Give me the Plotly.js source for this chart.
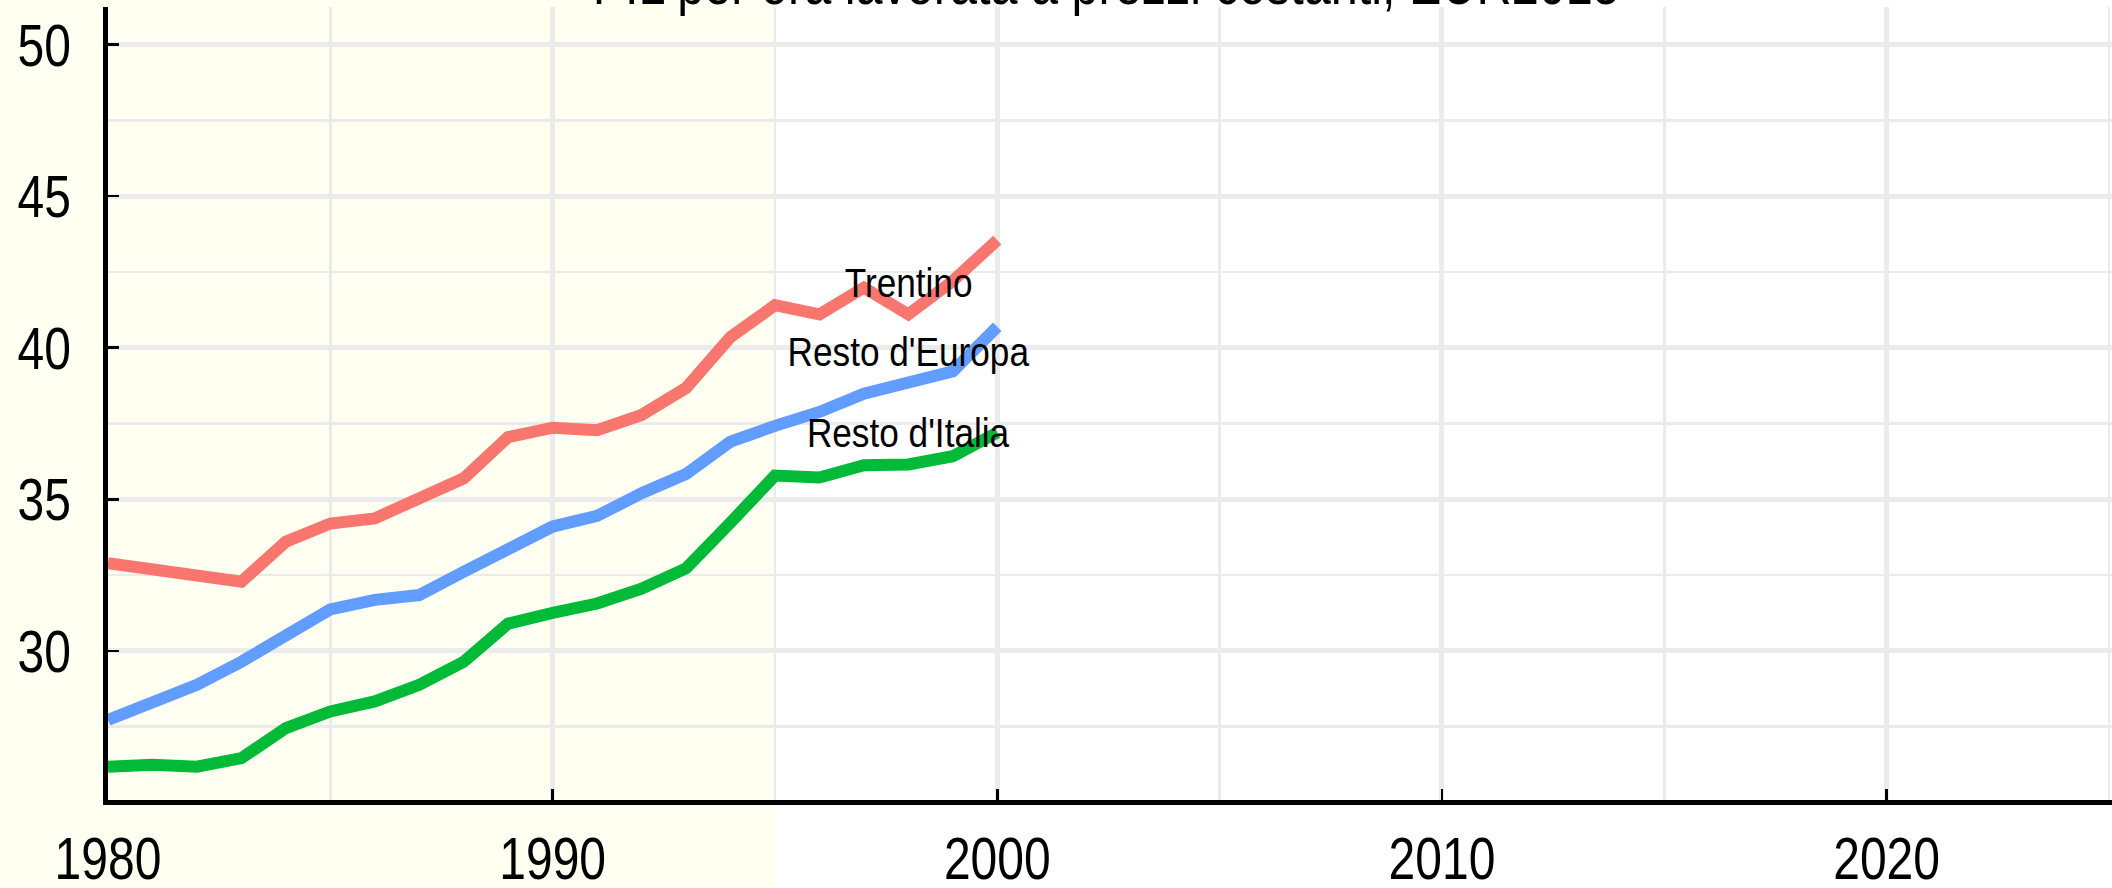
<!DOCTYPE html>
<html>
<head>
<meta charset="utf-8">
<script src="https://cdn.plot.ly/plotly-3.0.1.min.js"></script>
<style>
  html, body { margin: 0; padding: 0; }
  #chart { width: 2112px; height: 888px;
    background: linear-gradient(to right, #fffff2 0px, #fffff2 775px, #ffffff 775px, #ffffff 2112px); }
</style>
</head>
<body>
<div id="chart"></div>
<script>
const years = [1980,1981,1982,1983,1984,1985,1986,1987,1988,1989,1990,1991,1992,1993,1994,1995,1996,1997,1998,1999,2000];
const trentino = [32.89,32.72,32.50,32.28,33.60,34.20,34.37,34.98,35.69,37.05,37.36,37.28,37.78,38.67,40.35,41.40,41.10,41.98,41.10,42.20,43.55];
const restoEuropa = [27.72,28.25,28.88,29.64,30.52,31.37,31.68,31.84,32.61,33.39,34.10,34.45,35.20,35.83,36.90,37.42,37.88,38.48,38.83,39.22,40.69];
const restoItalia = [26.18,26.24,26.18,26.46,27.45,28.00,28.33,28.88,29.64,30.90,31.25,31.56,32.05,32.72,34.23,35.78,35.72,36.12,36.15,36.42,37.20];
const seriesNames = ["Trentino", "Resto d'Europa", "Resto d'Italia"];
const seriesColors = ["#F8766D", "#619CFF", "#00BA38"];
const labelX = [1998, 1998, 1998];
const labelY = [42.12, 39.86, 37.19];
const titleText = "PIL per ora lavorata a prezzi costanti, EUR2015";
const xTickVals = [1980, 1990, 2000, 2010, 2020];
const xTickText = ['1980', '1990', '2000', '2010', '2020'];
const yTickVals = [30, 35, 40, 45, 50];
const yTickText = ['30', '35', '40', '45', '50'];

const FONT = "'Liberation Sans Narrow', 'Arial Narrow', 'Liberation Sans', Arial, sans-serif";
const seriesData = [trentino, restoEuropa, restoItalia];

const traces = seriesData.map((ys, i) => ({
  x: years, y: ys, type: 'scatter', mode: 'lines', name: seriesNames[i],
  line: { color: seriesColors[i], width: 12 }, hoverinfo: 'skip'
}));

const annotations = seriesNames.map((n, i) => ({
  x: labelX[i], y: labelY[i], xref: 'x', yref: 'y', text: n, showarrow: false,
  xanchor: 'center', yanchor: 'middle', font: { family: FONT, size: 40, color: '#000' }
}));
annotations.push({
  x: 0.498, y: 0.985, xref: 'paper', yref: 'paper', text: titleText, showarrow: false,
  xanchor: 'center', yanchor: 'bottom', font: { family: FONT, size: 60, color: '#000' }
});

const layout = {
  width: 2112, height: 888,
  margin: { l: 108, r: 0, t: 7, b: 88, pad: 0 },
  paper_bgcolor: 'rgba(0,0,0,0)',
  plot_bgcolor: 'rgba(0,0,0,0)',
  showlegend: false,
  xaxis: {
    range: [1980, 2025.07], tickvals: xTickVals, ticktext: xTickText,
    ticks: 'inside', ticklen: 11, tickwidth: 2.5, tickcolor: '#000',
    showline: true, linecolor: '#000', linewidth: 5,
    showgrid: true, gridcolor: '#ebebeb', gridwidth: 5, zeroline: false,
    minor: { dtick: 5, tick0: 1980, showgrid: true, gridcolor: '#ebebeb', gridwidth: 2.5, ticks: '' },
    tickfont: { family: FONT, size: 60, color: '#000' }, ticklabelstandoff: 2
  },
  yaxis: {
    range: [25.08, 51.237], tickvals: yTickVals, ticktext: yTickText,
    ticks: 'inside', ticklen: 11, tickwidth: 2.5, tickcolor: '#000',
    showline: true, linecolor: '#000', linewidth: 5,
    showgrid: true, gridcolor: '#ebebeb', gridwidth: 5, zeroline: false,
    minor: { dtick: 2.5, tick0: 25, showgrid: true, gridcolor: '#ebebeb', gridwidth: 2.5, ticks: '' },
    tickfont: { family: FONT, size: 60, color: '#000' }, ticklabelstandoff: 20
  },
  annotations: annotations
};

// Condense text horizontally (narrow-face look) around each text's own anchor point.
function condense(el, s) {
  const bb = el.getBBox();
  const anchor = el.getAttribute('text-anchor') || 'start';
  let ax = bb.x;
  if (anchor === 'middle') ax = bb.x + bb.width / 2;
  else if (anchor === 'end') ax = bb.x + bb.width;
  const prev = el.getAttribute('transform') || '';
  el.setAttribute('transform', prev + ' translate(' + ax + ',0) scale(' + s + ',1) translate(' + (-ax) + ',0)');
}

Plotly.newPlot('chart', traces, layout, { staticPlot: true, displayModeBar: false }).then(gd => {
  gd.querySelectorAll('.xtick text, .ytick text').forEach(el => condense(el, 0.8));
  gd.querySelectorAll('.annotation-text').forEach(el => {
    condense(el, el.textContent === titleText ? 0.81 : 0.88);
  });
});
</script>
</body>
</html>
